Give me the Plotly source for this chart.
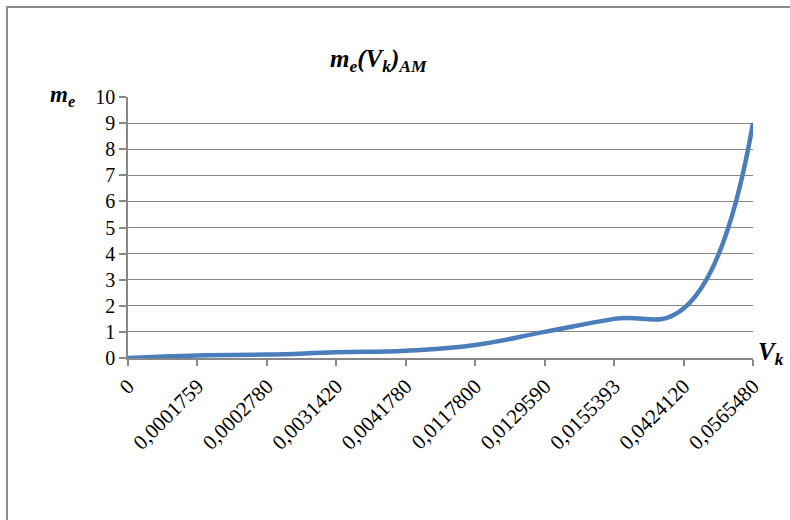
import plotly.graph_objects as go

categories = ["0", "0,0001759", "0,0002780", "0,0031420", "0,0041780",
              "0,0117800", "0,0129590", "0,0155393", "0,0424120", "0,0565480"]
me_values = [0, 0.1, 0.13, 0.22, 0.28, 0.5, 1.0, 1.5, 1.9, 9.0]
y_ticks = list(range(0, 11))

SERIF = "Liberation Serif, Times New Roman, serif"
L, R, T, B = 128, 37, 97, 162
W, H = 790, 520
pw, ph = W - L - R, H - T - B

def px(x):
    return (x - L) / pw

def py(y):
    return (H - B - y) / ph

fig = go.Figure()
fig.add_trace(go.Scatter(
    x=categories, y=me_values, mode="lines",
    line=dict(color="#4A7EBB", width=4.5, shape="spline", smoothing=1.3),
    hoverinfo="skip", showlegend=False))

fig.update_layout(
    width=W, height=H,
    margin=dict(l=L, r=R, t=T, b=B, autoexpand=False),
    paper_bgcolor="white", plot_bgcolor="white",
    font=dict(family=SERIF, color="black"),
    xaxis=dict(type="category", range=[0, len(categories) - 1], automargin=False,
               showgrid=False, showline=True, linecolor="#878787", linewidth=1.5,
               ticks="outside", ticklen=6, tickcolor="#878787", tickwidth=1.5,
               tickangle=-45, tickfont=dict(size=21, family=SERIF, color="black"),
               zeroline=False),
    yaxis=dict(range=[0, 10], tickvals=y_ticks, showgrid=True, automargin=False,
               gridcolor="#878787", gridwidth=1.2, showline=True,
               linecolor="#878787", linewidth=1.5, ticks="outside", ticklen=7,
               tickcolor="#878787", tickwidth=1.5,
               tickfont=dict(size=20, family=SERIF, color="black"),
               zeroline=False),
    shapes=[dict(type="rect", xref="paper", yref="paper",
                 x0=px(7), x1=px(805), y0=py(535), y1=py(7),
                 line=dict(color="#8c8c8c", width=2), fillcolor="rgba(0,0,0,0)",
                 layer="below")],
    annotations=[
        dict(text="<b><i>m<sub>e</sub>(V<sub>k</sub>)<sub>AM</sub></i></b>",
             xref="paper", yref="paper", x=px(379), y=py(61),
             xanchor="center", yanchor="middle", showarrow=False,
             font=dict(size=25, family=SERIF)),
        dict(text="<b><i>m<sub>e</sub></i></b>",
             xref="paper", yref="paper", x=px(62), y=py(96),
             xanchor="center", yanchor="middle", showarrow=False,
             font=dict(size=23, family=SERIF)),
        dict(text="<b><i>V<sub>k</sub></i></b>",
             xref="paper", yref="paper", x=px(771), y=py(353),
             xanchor="center", yanchor="middle", showarrow=False,
             font=dict(size=25, family=SERIF)),
    ],
)

fig.write_html("out.html", config={"displayModeBar": False},
               post_script="document.body.style.margin='0';document.body.style.overflow='hidden';")
